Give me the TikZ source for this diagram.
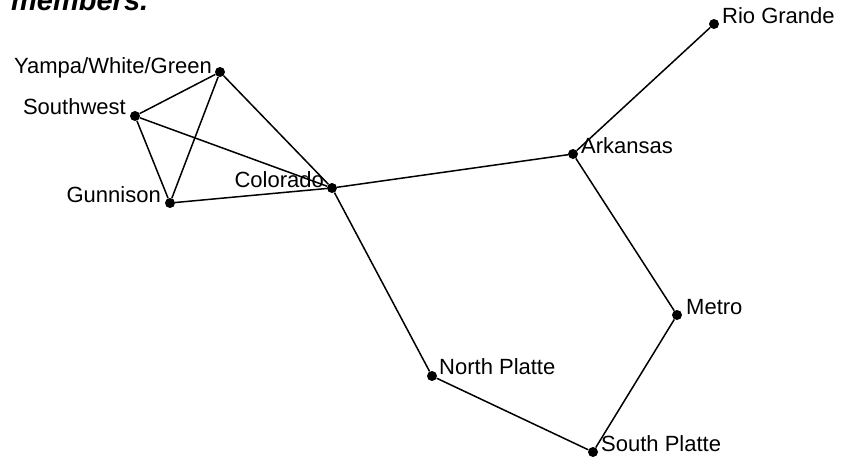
\documentclass[tikz,border=0pt]{standalone}
\usepackage{fontspec}
\setmainfont{Liberation Sans}
\begin{document}
\begin{tikzpicture}[x=1pt,y=-1pt,
  dot/.style={circle,fill=black,inner sep=0pt,minimum size=10pt},
  lbl/.style={inner sep=0pt,font=\fontsize{22}{24}\selectfont},
  edge/.style={line width=1.5pt}]
\useasboundingbox (0,0) rectangle (842,456);
\node[inner sep=0pt,anchor=base west,font=\fontsize{29}{32}\selectfont\bfseries\itshape] (title) at (11,10) {members.};
% dots
\node[dot] (rio) at (714,24) {};
\node[dot] (yam) at (220,72) {};
\node[dot] (sw) at (135,116) {};
\node[dot] (gun) at (170,203) {};
\node[dot] (col) at (332,188) {};
\node[dot] (ark) at (573,154) {};
\node[dot] (met) at (677,315) {};
\node[dot] (np) at (432,376) {};
\node[dot] (sp) at (593,452) {};
% labels
\node[lbl,anchor=base west] (lrio) at (722,23) {Rio Grande};
\node[lbl,anchor=base east] (lyam) at (212,73) {Yampa/White/Green};
\node[lbl,anchor=base east] (lsw) at (126,114) {Southwest};
\node[lbl,anchor=base east] (lgun) at (161,202) {Gunnison};
\node[lbl,anchor=base east] (lcol) at (324,187) {Colorado};
\node[lbl,anchor=base west] (lark) at (581,153) {Arkansas};
\node[lbl,anchor=base west] (lmet) at (686,314) {Metro};
\node[lbl,anchor=base west] (lnp) at (439,374) {North Platte};
\node[lbl,anchor=base west] (lsp) at (601,451) {South Platte};
% edges
\draw[edge] (yam) -- (sw);
\draw[edge] (yam) -- (gun);
\draw[edge] (yam) -- (col);
\draw[edge] (sw) -- (gun);
\draw[edge] (sw) -- (col);
\draw[edge] (gun) -- (col);
\draw[edge] (col) -- (ark);
\draw[edge] (col) -- (np);
\draw[edge] (ark) -- (rio);
\draw[edge] (ark) -- (met);
\draw[edge] (met) -- (sp);
\draw[edge] (np) -- (sp);
\end{tikzpicture}
\end{document}
